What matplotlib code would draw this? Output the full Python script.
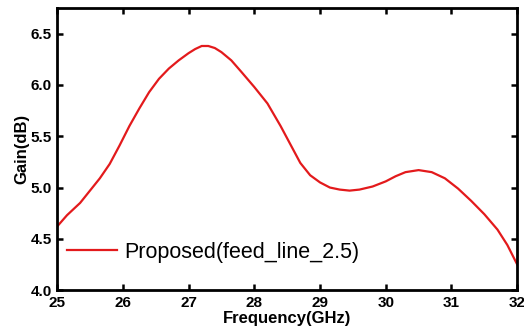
import matplotlib
matplotlib.use('Agg')
import matplotlib.pyplot as plt

# Gain vs frequency
freq = [25.0, 25.15, 25.35, 25.5, 25.65, 25.8, 25.95, 26.1, 26.25, 26.4, 26.55,
        26.7, 26.85, 27.0, 27.1, 27.2, 27.3, 27.4, 27.5, 27.65, 27.8, 28.0,
        28.2, 28.4, 28.55, 28.7, 28.85, 29.0, 29.15, 29.3, 29.45, 29.6, 29.8,
        30.0, 30.15, 30.3, 30.5, 30.7, 30.9, 31.1, 31.3, 31.5, 31.7, 31.85, 32.0]
gain = [4.62, 4.73, 4.85, 4.97, 5.09, 5.23, 5.41, 5.6, 5.77, 5.93, 6.06,
        6.16, 6.24, 6.31, 6.35, 6.38, 6.38, 6.36, 6.32, 6.24, 6.13, 5.98,
        5.82, 5.6, 5.42, 5.24, 5.12, 5.05, 5.0, 4.98, 4.97, 4.98, 5.01,
        5.06, 5.11, 5.15, 5.17, 5.15, 5.09, 4.99, 4.87, 4.74, 4.59, 4.44, 4.25]

xticks = [25, 26, 27, 28, 29, 30, 31, 32]
yticks = [4.0, 4.5, 5.0, 5.5, 6.0, 6.5]

plt.rcParams['font.family'] = ['Liberation Sans', 'DejaVu Sans']

fig = plt.figure(figsize=(5.24, 3.35), dpi=100)
ax = fig.add_axes([0.109, 0.134, 0.878, 0.842])

ax.plot(freq, gain, color='#e31a1c', lw=1.6, label='Proposed(feed_line_2.5)')

ax.set_xlim(25, 32)
ax.set_ylim(4.0, 6.75)
ax.set_xticks(xticks)
ax.set_yticks(yticks)
ax.set_xticklabels([str(t) for t in xticks], fontweight='bold', fontsize=11)
ax.set_yticklabels([f'{t:.1f}' for t in yticks], fontweight='bold', fontsize=11)
ax.tick_params(direction='in', length=4, width=1.8, top=True, right=True,
               labeltop=False, labelright=False, pad=4)
for s in ax.spines.values():
    s.set_linewidth(2)

ax.set_xlabel('Frequency(GHz)', fontweight='bold', fontsize=12, labelpad=1)
ax.set_ylabel('Gain(dB)', fontweight='bold', fontsize=12, labelpad=1)

ax.legend(loc='center left', bbox_to_anchor=(0.022, 0.135), frameon=False,
          fontsize=15.5, handlelength=2.3, handletextpad=0.35,
          borderaxespad=0, borderpad=0)

fig.savefig('out.png', dpi=100)
